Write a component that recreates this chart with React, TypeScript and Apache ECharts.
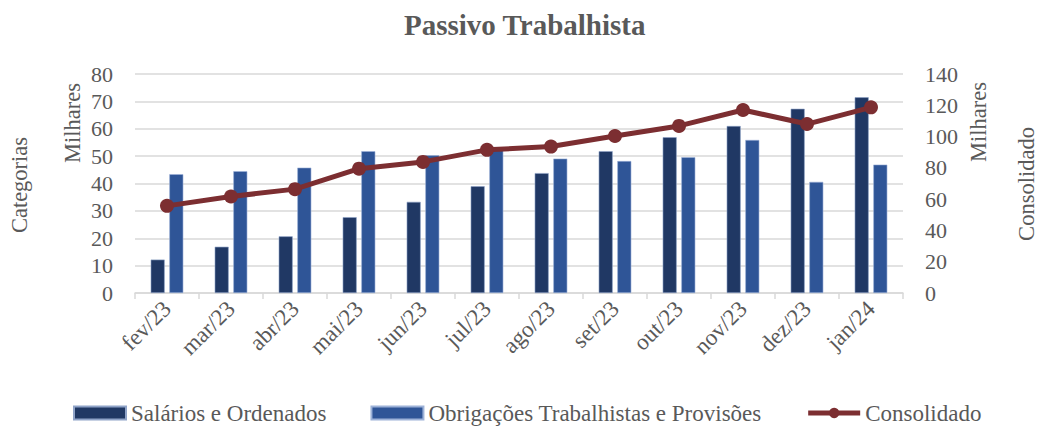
import React, { useEffect, useRef } from "react";
import * as echarts from "echarts";

const categories = ["fev/23", "mar/23", "abr/23", "mai/23", "jun/23", "jul/23", "ago/23", "set/23", "out/23", "nov/23", "dez/23", "jan/24"];
const salarios = [12.2, 16.9, 20.7, 27.7, 33.3, 39.0, 43.8, 51.8, 56.9, 61.0, 67.3, 71.5];
const obrigacoes = [43.4, 44.5, 45.8, 51.8, 50.3, 52.3, 49.1, 48.2, 49.6, 55.9, 40.6, 46.9];
const consolidado = [55.7, 61.7, 66.4, 79.5, 83.8, 91.5, 93.6, 100.4, 106.8, 117.0, 108.0, 118.7];

const FONT = "'Liberation Serif', 'DejaVu Serif', serif";
const TXT = "#595959";

export default function App() {
  const ref = useRef<HTMLDivElement>(null);
  useEffect(() => {
    if (!ref.current) return;
    const chart = echarts.init(ref.current, null, { renderer: "svg" });
    chart.setOption({
      animation: false,
      backgroundColor: "#fff",
      textStyle: { fontFamily: FONT, color: TXT },
      title: {
        text: "Passivo Trabalhista",
        left: 404,
        top: 10,
        padding: 0,
        textStyle: { fontFamily: FONT, fontSize: 29, fontWeight: "bold", color: TXT },
      },
      grid: { left: 135, right: 136, top: 74, bottom: 133, containLabel: false },
      legend: {
        left: 73,
        top: 401,
        padding: 0,
        itemGap: 44,
        itemWidth: 52,
        itemHeight: 13,
        textStyle: { fontFamily: FONT, fontSize: 23, color: TXT, lineHeight: 24 },
        data: [
          { name: "Salários e Ordenados", icon: "rect" },
          { name: "Obrigações Trabalhistas e Provisões", icon: "rect" },
          { name: "Consolidado", lineStyle: { width: 5 } },
        ],
      },
      xAxis: {
        type: "category",
        data: categories,
        axisLine: { lineStyle: { color: "#D9D9D9", width: 1.5 } },
        axisTick: { show: true, length: 6, lineStyle: { color: "#D9D9D9", width: 1.5 } },
        axisLabel: { rotate: 45, margin: 12, fontSize: 23, fontFamily: FONT, color: TXT },
      },
      yAxis: [
        {
          type: "value",
          min: 0,
          max: 80,
          interval: 10,
          axisLine: { show: false },
          axisTick: { show: false },
          splitLine: { lineStyle: { color: "#D9D9D9", width: 1.5 } },
          axisLabel: { fontSize: 22, fontFamily: FONT, color: TXT, margin: 22 },
        },
        {
          type: "value",
          min: 0,
          max: 140,
          interval: 20,
          axisLine: { show: false },
          axisTick: { show: false },
          splitLine: { show: false },
          axisLabel: { fontSize: 22, fontFamily: FONT, color: TXT, margin: 22 },
        },
      ],
      graphic: [
        { type: "text", x: 72, y: 123, rotation: Math.PI / 2, style: { text: "Milhares", font: `22.5px ${FONT}`, fill: TXT, align: "center", verticalAlign: "middle" } },
        { type: "text", x: 19, y: 185, rotation: Math.PI / 2, style: { text: "Categorias", font: `22.5px ${FONT}`, fill: TXT, align: "center", verticalAlign: "middle" } },
        { type: "text", x: 978, y: 122, rotation: Math.PI / 2, style: { text: "Milhares", font: `22.5px ${FONT}`, fill: TXT, align: "center", verticalAlign: "middle" } },
        { type: "text", x: 1026, y: 184, rotation: Math.PI / 2, style: { text: "Consolidado", font: `22.5px ${FONT}`, fill: TXT, align: "center", verticalAlign: "middle" } },
      ],
      series: [
        {
          name: "Salários e Ordenados",
          type: "bar",
          data: salarios,
          barWidth: 14,
          barGap: "33%",
          itemStyle: { color: "#203864", borderColor: "#8FA3C8", borderWidth: 0.6 },
        },
        {
          name: "Obrigações Trabalhistas e Provisões",
          type: "bar",
          data: obrigacoes,
          barWidth: 14,
          itemStyle: { color: "#2F5597", borderColor: "#9DB2D8", borderWidth: 0.6 },
        },
        {
          name: "Consolidado",
          type: "line",
          yAxisIndex: 1,
          data: consolidado,
          symbol: "circle",
          symbolSize: 14,
          lineStyle: { color: "#7C2E31", width: 5 },
          itemStyle: { color: "#7C2E31" },
        },
      ],
    });
    return () => chart.dispose();
  }, []);
  return <div ref={ref} style={{ width: 1039, height: 426, position: "absolute", left: 0, top: 0 }} />;
}
